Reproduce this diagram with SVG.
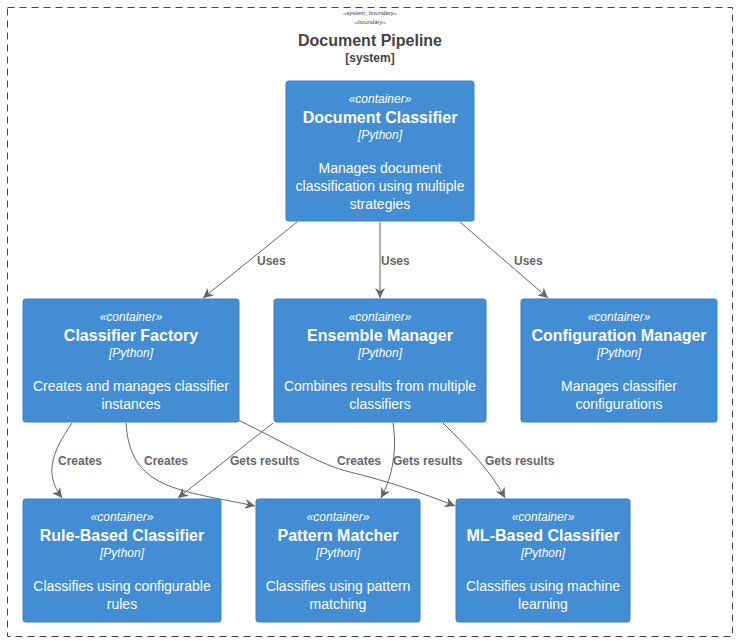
<svg xmlns="http://www.w3.org/2000/svg" width="738" height="643" viewBox="0 0 738 643">
<style>
text{font-family:"Liberation Sans",Arial,sans-serif}
.box{fill:#438DD5;stroke:#3C7FC0;stroke-width:1}
.st{fill:#FFFFFF;font-size:12px;font-style:italic;text-anchor:middle}
.tt{fill:#FFFFFF;font-size:16px;font-weight:bold;text-anchor:middle}
.ds{fill:#FFFFFF;font-size:14px;text-anchor:middle}
.e{fill:none;stroke:#666666;stroke-width:1}
.lb{fill:#666666;font-size:12px;font-weight:bold}
.bd{fill:none;stroke:#444444;stroke-width:1;stroke-dasharray:7 5}
.bt{fill:#444444;text-anchor:middle}
</style>
<defs>
<marker id="ar" viewBox="0 0 10 10" refX="10" refY="5" markerWidth="10" markerHeight="10" markerUnits="userSpaceOnUse" orient="auto">
<path d="M0,0 L10,5 L0,10 L3,5 Z" fill="#666666"/>
</marker>
</defs>
<g id="boundary">
<rect class="bd" x="7.5" y="7.5" width="725" height="629"/>
<text class="bt" x="370" y="15" font-size="6" font-style="italic">«system_boundary»</text>
<text class="bt" x="370" y="24" font-size="6" font-style="italic">«boundary»</text>
<text class="bt" x="370" y="46" font-size="16" font-weight="bold">Document Pipeline</text>
<text class="bt" x="370" y="62" font-size="12" font-weight="bold">[system]</text>
</g>
<g id="connectors">
<path class="e" d="M297,222 L203,298" marker-end="url(#ar)"/>
<path class="e" d="M380,222 L380,298" marker-end="url(#ar)"/>
<path class="e" d="M460,222 L548,298" marker-end="url(#ar)"/>
<path class="e" d="M72,423 C50,455 45,475 62,498" marker-end="url(#ar)"/>
<path class="e" d="M126,423 C130,490 180,490 255,506" marker-end="url(#ar)"/>
<path class="e" d="M273,423 L178,498" marker-end="url(#ar)"/>
<path class="e" d="M238,420 C290,445 320,465 350,472 C390,482 420,492 455,506" marker-end="url(#ar)"/>
<path class="e" d="M393,423 C397,450 393,475 381,498" marker-end="url(#ar)"/>
<path class="e" d="M443,423 C470,450 490,470 505,498" marker-end="url(#ar)"/>
<text class="lb" x="257" y="265">Uses</text>
<text class="lb" x="381" y="265">Uses</text>
<text class="lb" x="514" y="265">Uses</text>
<text class="lb" x="58" y="465">Creates</text>
<text class="lb" x="144" y="465">Creates</text>
<text class="lb" x="230" y="465">Gets results</text>
<text class="lb" x="337" y="465">Creates</text>
<text class="lb" x="393" y="465">Gets results</text>
<text class="lb" x="485" y="465">Gets results</text>
</g>
<g id="document-classifier">
<rect class="box" x="286" y="81" width="188" height="140" rx="2.5"/>
<text class="st" x="380" y="103">«container»</text>
<text class="tt" x="380" y="123">Document Classifier</text>
<text class="st" x="380" y="139">[Python]</text>
<text class="ds" x="380" y="173">Manages document</text>
<text class="ds" x="380" y="191">classification using multiple</text>
<text class="ds" x="380" y="209">strategies</text>
</g>
<g id="classifier-factory">
<rect class="box" x="23" y="299" width="216" height="123" rx="2.5"/>
<text class="st" x="131" y="321">«container»</text>
<text class="tt" x="131" y="341">Classifier Factory</text>
<text class="st" x="131" y="357">[Python]</text>
<text class="ds" x="131" y="391">Creates and manages classifier</text>
<text class="ds" x="131" y="409">instances</text>
</g>
<g id="ensemble-manager">
<rect class="box" x="274" y="299" width="212" height="123" rx="2.5"/>
<text class="st" x="380" y="321">«container»</text>
<text class="tt" x="380" y="341">Ensemble Manager</text>
<text class="st" x="380" y="357">[Python]</text>
<text class="ds" x="380" y="391">Combines results from multiple</text>
<text class="ds" x="380" y="409">classifiers</text>
</g>
<g id="configuration-manager">
<rect class="box" x="521" y="299" width="196" height="123" rx="2.5"/>
<text class="st" x="619" y="321">«container»</text>
<text class="tt" x="619" y="341">Configuration Manager</text>
<text class="st" x="619" y="357">[Python]</text>
<text class="ds" x="619" y="391">Manages classifier</text>
<text class="ds" x="619" y="409">configurations</text>
</g>
<g id="rule-based-classifier">
<rect class="box" x="23" y="499" width="198" height="123" rx="2.5"/>
<text class="st" x="122" y="521">«container»</text>
<text class="tt" x="122" y="541">Rule-Based Classifier</text>
<text class="st" x="122" y="557">[Python]</text>
<text class="ds" x="122" y="591">Classifies using configurable</text>
<text class="ds" x="122" y="609">rules</text>
</g>
<g id="pattern-matcher">
<rect class="box" x="256" y="499" width="164" height="123" rx="2.5"/>
<text class="st" x="338" y="521">«container»</text>
<text class="tt" x="338" y="541">Pattern Matcher</text>
<text class="st" x="338" y="557">[Python]</text>
<text class="ds" x="338" y="591">Classifies using pattern</text>
<text class="ds" x="338" y="609">matching</text>
</g>
<g id="ml-based-classifier">
<rect class="box" x="456" y="499" width="174" height="123" rx="2.5"/>
<text class="st" x="543" y="521">«container»</text>
<text class="tt" x="543" y="541">ML-Based Classifier</text>
<text class="st" x="543" y="557">[Python]</text>
<text class="ds" x="543" y="591">Classifies using machine</text>
<text class="ds" x="543" y="609">learning</text>
</g>
</svg>
